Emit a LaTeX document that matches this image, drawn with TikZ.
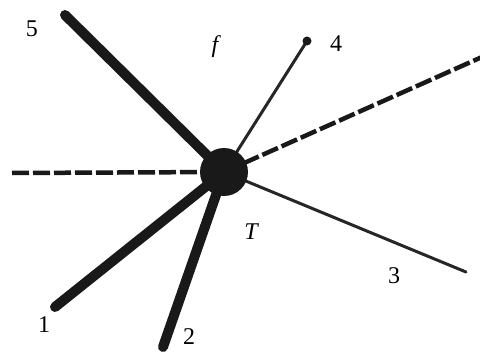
\documentclass[tikz,border=0pt]{standalone}
\usepackage{fontspec}
\setmainfont{Liberation Serif}
\begin{document}
\begin{tikzpicture}[x=1pt,y=-1pt,
  heavy/.style={line width=10pt,line cap=round,color=black!90},
  light/.style={line width=3pt,line cap=round,color=black!85},
  dashline/.style={line width=4.5pt,dash pattern=on 17pt off 4pt,color=black!90},
  lbl/.style={font=\fontsize{24}{28}\selectfont,inner sep=0pt}]
\useasboundingbox (0,0) rectangle (480,353);
\coordinate (c) at (224,172);
\coordinate (e5) at (65,15);
\coordinate (e4) at (307,41);
\coordinate (eur) at (482,57);
\coordinate (el) at (12,173);
\coordinate (e1) at (55,307);
\coordinate (e2) at (163,347);
\coordinate (e3) at (466,272);
\draw[dashline] (el) -- (c);
\draw[dashline] (c) -- (eur);
\draw[heavy] (c) -- (e5);
\draw[heavy] (c) -- (e1);
\draw[heavy] (c) -- (e2);
\draw[light] (c) -- (e4);
\draw[light] (c) -- (e3);
\fill[black!90] (e4) circle (4.5);
\node[circle,fill=black!90,minimum size=48pt,inner sep=0pt] (T) at (c) {};
\node[lbl] (l5) at (32,29) {5};
\node[lbl] (lf) at (215,47) {\itshape f};
\node[lbl] (l4) at (336,44) {4};
\node[lbl] (lT) at (251,232) {\itshape T};
\node[lbl] (l3) at (394,276) {3};
\node[lbl] (l1) at (44,325) {1};
\node[lbl] (l2) at (189,337) {2};
\end{tikzpicture}
\end{document}
